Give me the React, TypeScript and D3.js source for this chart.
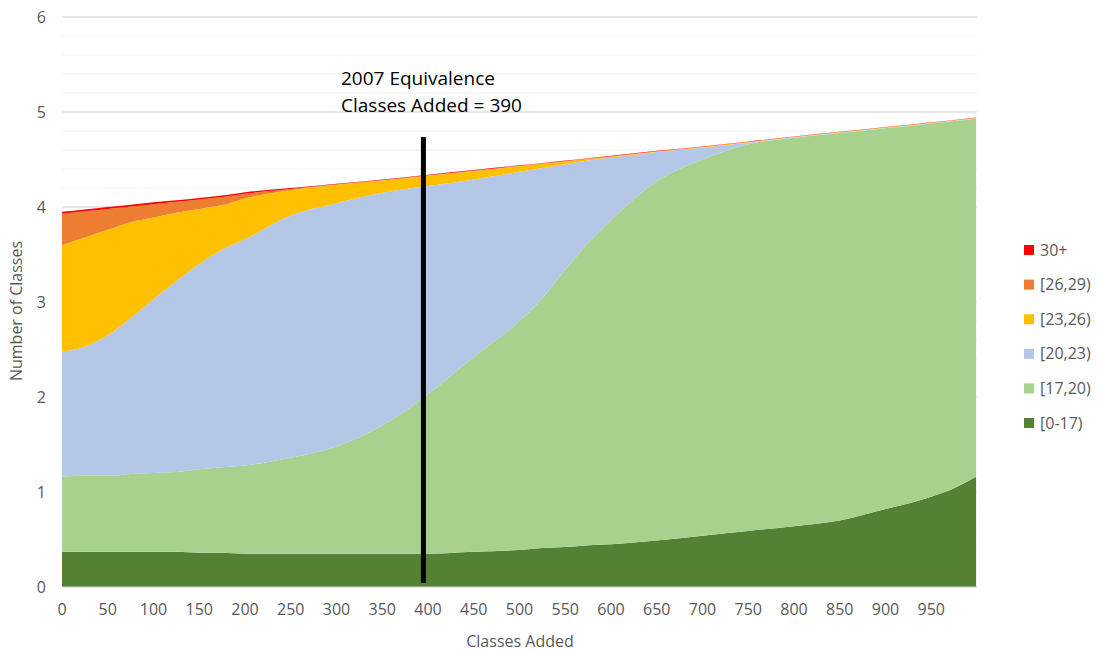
import React from "react";
import * as d3 from "d3";

const xs = [0, 25, 50, 75, 100, 125, 150, 175, 200, 250, 300, 350, 400, 450, 500, 525, 550, 575, 600, 650, 700, 750, 800, 850, 900, 950, 975, 999];

const band0to17 = [0.37, 0.37, 0.37, 0.37, 0.37, 0.37, 0.36, 0.36, 0.35, 0.35, 0.35, 0.35, 0.35, 0.37, 0.39, 0.41, 0.42, 0.44, 0.45, 0.49, 0.54, 0.59, 0.64, 0.70, 0.82, 0.95, 1.04, 1.16];
const band17to20 = [0.79, 0.80, 0.80, 0.82, 0.83, 0.84, 0.88, 0.90, 0.93, 1.01, 1.13, 1.35, 1.68, 2.05, 2.41, 2.63, 2.92, 3.18, 3.41, 3.78, 3.96, 4.07, 4.09, 4.08, 4.01, 3.93, 3.865, 3.77];
const band20to23 = [1.32, 1.36, 1.48, 1.64, 1.83, 2.01, 2.16, 2.29, 2.38, 2.55, 2.56, 2.45, 2.19, 1.87, 1.57, 1.37, 1.11, 0.87, 0.66, 0.31, 0.125, 0.02, 0.005, 0.005, 0.005, 0.005, 0.005, 0.005];
const band23to26 = [1.12, 1.15, 1.11, 1.01, 0.86, 0.72, 0.58, 0.47, 0.43, 0.27, 0.195, 0.13, 0.11, 0.09, 0.06, 0.045, 0.03, 0.015, 0.01, 0.005, 0.005, 0.003, 0.002, 0.002, 0.002, 0.002, 0.002, 0.002];
const band26to29 = [0.33, 0.275, 0.22, 0.165, 0.14, 0.115, 0.10, 0.085, 0.05, 0.01, 0.005, 0.005, 0.005, 0.005, 0.005, 0.005, 0.005, 0.005, 0.005, 0.003, 0.003, 0.003, 0.002, 0.002, 0.002, 0.002, 0.002, 0.002];
const band30plus = [0.02, 0.02, 0.02, 0.02, 0.02, 0.015, 0.015, 0.015, 0.015, 0.01, 0.005, 0.005, 0.005, 0.005, 0.004, 0.004, 0.004, 0.004, 0.004, 0.003, 0.003, 0.003, 0.002, 0.002, 0.002, 0.002, 0.002, 0.002];

const seriesNames = ["[0-17)", "[17,20)", "[20,23)", "[23,26)", "[26,29)", "30+"];
const seriesColors = ["#548235", "#A9D18E", "#B4C7E7", "#FFC000", "#ED7D31", "#FF0000"];
const seriesValues = [band0to17, band17to20, band20to23, band23to26, band26to29, band30plus];

const xTicks = d3.range(0, 1000, 50);
const yTicks = [0, 1, 2, 3, 4, 5, 6];
const yMinorTicks = d3.range(0, 6.01, 0.2);

const equivalenceX = 395;
const annotationLines = ["2007 Equivalence", "Classes Added = 390"];

export default function App() {
  const W = 1097, H = 653;
  const left = 62, right = 977, top = 17, bottom = 587;
  const x = d3.scaleLinear().domain([0, 1000]).range([left, right]);
  const y = d3.scaleLinear().domain([0, 6]).range([bottom, top]);

  const rows = xs.map((xv, i) => {
    const r: any = { x: xv };
    seriesNames.forEach((n, k) => (r[n] = seriesValues[k][i]));
    return r;
  });
  const stack = d3.stack<any>().keys(seriesNames);
  const stacked = stack(rows);
  const area = d3
    .area<any>()
    .x((d) => x(d.data.x))
    .y0((d) => y(d[0]))
    .y1((d) => y(d[1]))
    .curve(d3.curveMonotoneX);

  const font = "'Open Sans', sans-serif";
  const grey = "#595959";
  const legendOrder = [...seriesNames].reverse();

  return (
    <svg width={W} height={H} style={{ position: "absolute", left: 0, top: 0 }} fontFamily={font}>
      <rect width={W} height={H} fill="#fff" />
      {yMinorTicks.map((t, i) => (
        <line key={"m" + i} x1={left} x2={right} y1={y(t)} y2={y(t)} stroke="#efefef" strokeWidth={1} />
      ))}
      {yTicks.map((t) => (
        <line key={"g" + t} x1={left} x2={right} y1={y(t)} y2={y(t)} stroke="#d9d9d9" strokeWidth={1} />
      ))}
      {stacked.map((s, k) => (
        <path key={s.key} d={area(s) || ""} fill={seriesColors[k]} />
      ))}
      <line x1={left} x2={right} y1={y(0)} y2={y(0)} stroke="#d9d9d9" strokeWidth={1} />
      {yTicks.map((t) => (
        <text key={"yt" + t} x={46} y={y(t)} dy="0.35em" textAnchor="end" fontSize={16} fill={grey}>
          {t}
        </text>
      ))}
      {xTicks.map((t) => (
        <text key={"xt" + t} x={x(t)} y={615} textAnchor="middle" fontSize={16} fill={grey}>
          {t}
        </text>
      ))}
      <text x={520} y={647} textAnchor="middle" fontSize={16} fill={grey}>
        Classes Added
      </text>
      <text transform={`translate(22,311) rotate(-90)`} textAnchor="middle" fontSize={16} fill={grey}>
        Number of Classes
      </text>
      <line x1={x(equivalenceX)} x2={x(equivalenceX)} y1={137} y2={583} stroke="#000" strokeWidth={5} />
      {annotationLines.map((l, i) => (
        <text key={"a" + i} x={341} y={85 + i * 27} fontSize={19} fill="#000">
          {l}
        </text>
      ))}
      {legendOrder.map((n, i) => {
        const k = seriesNames.indexOf(n);
        const cy = 250 + i * 34.6;
        return (
          <g key={"l" + n}>
            <rect x={1024} y={cy - 5} width={10} height={10} fill={seriesColors[k]} />
            <text x={1040} y={cy} dy="0.35em" fontSize={16} fill={grey}>
              {n}
            </text>
          </g>
        );
      })}
    </svg>
  );
}
